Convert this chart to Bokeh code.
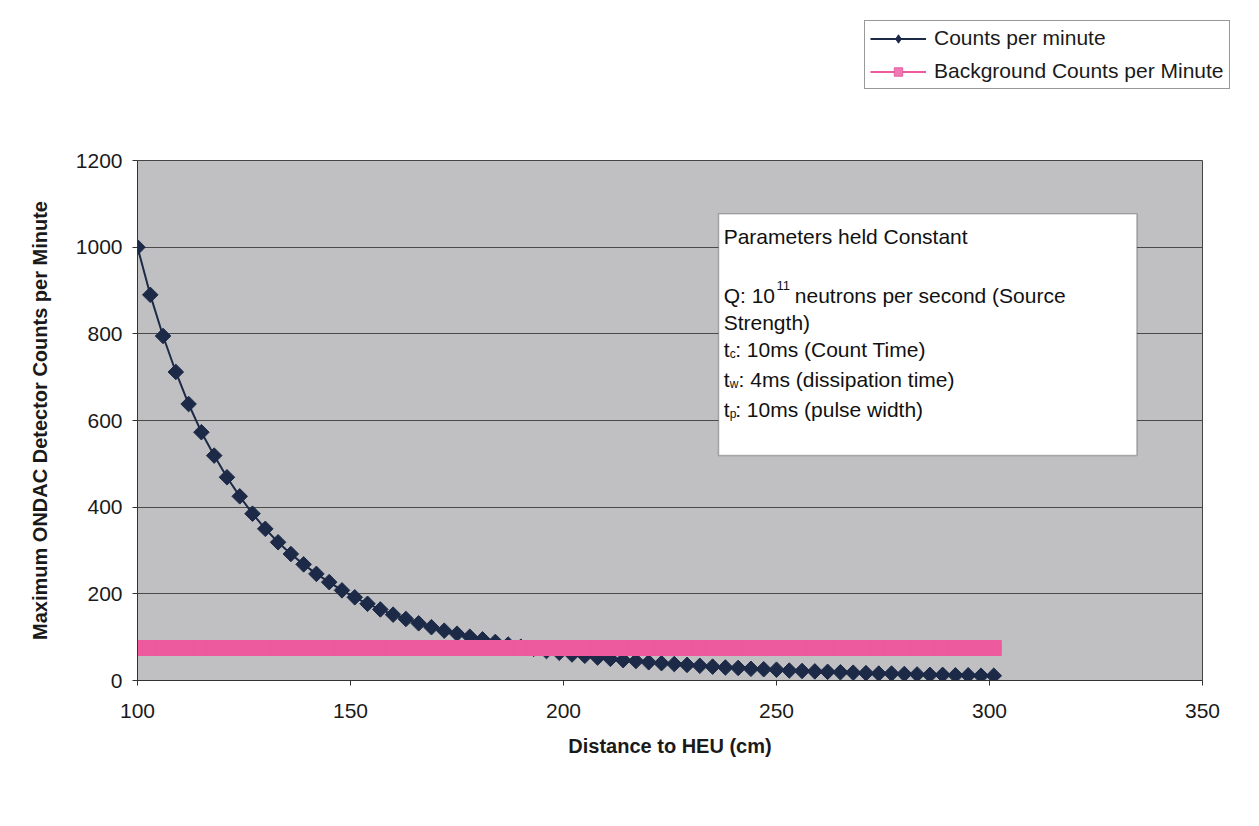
from bokeh.plotting import figure
from bokeh.layouts import column
from bokeh.models import Range1d, FixedTicker, Legend, LegendItem, Label, BoxAnnotation
from bokeh.embed import file_html
from bokeh.resources import INLINE
import math

# ---- data ----
distance = [100, 103, 106, 109, 112, 115, 118, 121, 124, 127, 130, 133, 136, 139, 142, 145, 148,
            151, 154, 157, 160, 163, 166, 169, 172, 175, 178, 181, 184, 187, 190, 193, 196, 199,
            202, 205, 208, 211, 214, 217, 220, 223, 226, 229, 232, 235, 238, 241, 244, 247, 250,
            253, 256, 259, 262, 265, 268, 271, 274, 277, 280, 283, 286, 289, 292, 295, 298, 301]
counts = [1000, 890, 795, 712, 638, 573, 519, 469, 425, 385, 350, 319, 292, 268, 246, 227, 208,
          192, 177, 164, 152, 142, 132, 123, 115, 108, 101, 95, 89, 83, 78, 73, 68, 64,
          60, 57, 53, 50, 47, 45, 42, 40, 38, 36, 34, 32, 30, 29, 27, 26, 25,
          23, 22, 21, 20, 19, 18, 17, 16, 16, 15, 14, 13, 13, 12, 12, 11, 11]
background = [75, 75, 75, 75, 75, 75, 75, 75, 75, 75, 75, 75, 75, 75, 75, 75, 75,
              75, 75, 75, 75, 75, 75, 75, 75, 75, 75, 75, 75, 75, 75, 75, 75, 75,
              75, 75, 75, 75, 75, 75, 75, 75, 75, 75, 75, 75, 75, 75, 75, 75, 75,
              75, 75, 75, 75, 75, 75, 75, 75, 75, 75, 75, 75, 75, 75, 75, 75, 75]
x_ticks = [100, 150, 200, 250, 300, 350]
y_ticks = [0, 200, 400, 600, 800, 1000, 1200]
series_names = ["Counts per minute", "Background Counts per Minute"]

FONT = "Liberation Sans"
NAVY = "#1c2a48"
PINK = "#ee5a9e"
W_MAIN = 1223
W_TOP = 1251
LEFT = 137
RIGHT = 21

# ---------------- top strip holding the legend ----------------
top = figure(width=W_TOP, height=100, output_backend="svg", toolbar_location=None,
             x_axis_location=None, y_axis_location=None,
             x_range=Range1d(0, 1), y_range=Range1d(0, 1),
             min_border_left=LEFT, min_border_right=RIGHT, min_border_top=0, min_border_bottom=0)
top.grid.visible = False
top.outline_line_color = None
top.background_fill_color = "white"
top.border_fill_color = "white"

lg1_line = top.line([-5, -4], [-5, -5], line_color=NAVY, line_width=2)
lg1_pts = top.scatter([-5], [-5], marker="diamond", size=18, fill_color=NAVY, line_color=NAVY)
lg2_line = top.line([-5, -4], [-5, -5], line_color=PINK, line_width=2)
lg2_pts = top.scatter([-5], [-5], marker="square", size=11, fill_color="#f07ab5",
                      line_color="#e0609f")

legend = Legend(items=[LegendItem(label=series_names[0], renderers=[lg1_line, lg1_pts]),
                       LegendItem(label=series_names[1], renderers=[lg2_line, lg2_pts])],
                location=(727, 11))
legend.label_text_font = FONT
legend.label_text_font_size = "21px"
legend.label_text_color = "#1a1a1a"
legend.glyph_width = 56
legend.glyph_height = 21
legend.label_height = 21
legend.label_standoff = 8
legend.spacing = 9
legend.padding = 5
legend.margin = 0
legend.border_line_color = "#333333"
legend.border_line_width = 1
legend.background_fill_color = "white"
legend.background_fill_alpha = 1
top.add_layout(legend)

# ---------------- main chart ----------------
p = figure(width=W_MAIN, height=710, output_backend="svg", toolbar_location=None,
           x_range=Range1d(100, 350), y_range=Range1d(0, 1200),
           min_border_left=LEFT, min_border_right=RIGHT, min_border_top=60,
           min_border_bottom=130)

p.background_fill_color = "#c0c0c3"
p.border_fill_color = "white"
p.outline_line_color = "#444444"
p.outline_line_width = 1

p.xgrid.grid_line_color = None
p.ygrid.grid_line_color = "#4a4a4a"
p.ygrid.grid_line_width = 1
p.xaxis.ticker = FixedTicker(ticks=x_ticks)
p.yaxis.ticker = FixedTicker(ticks=y_ticks)

for ax in (p.xaxis[0], p.yaxis[0]):
    ax.axis_line_color = "#333333"
    ax.major_tick_line_color = "#333333"
    ax.major_tick_out = 5
    ax.major_tick_in = 0
    ax.minor_tick_line_color = None
    ax.major_label_text_font = FONT
    ax.major_label_text_font_size = "21px"
    ax.major_label_text_color = "#1a1a1a"
    ax.axis_label_text_font = FONT
    ax.axis_label_text_font_style = "bold"
    ax.axis_label_text_font_size = "20px"
    ax.axis_label_text_color = "#1a1a1a"

p.xaxis.axis_label = "Distance to HEU (cm)"
p.yaxis.axis_label = "Maximum ONDAC Detector Counts per Minute"
p.xaxis.major_label_standoff = 18
p.xaxis.axis_label_standoff = 14
p.yaxis.major_label_standoff = 10
p.yaxis.axis_label_standoff = 22

# counts series
p.line(distance, counts, line_color=NAVY, line_width=2)
p.scatter(distance, counts, marker="square", size=11, angle=math.pi / 4,
          fill_color=NAVY, line_color=NAVY)

# background series (drawn on top)
p.line(distance, background, line_color=PINK, line_width=2)
p.scatter(distance, background, marker="square", size=15, fill_color=PINK, line_color=PINK)

# text box with constant parameters
p.add_layout(BoxAnnotation(left=236.4, right=334.6, bottom=519, top=1077,
                           fill_color="white", fill_alpha=1,
                           line_color="#222222", line_width=1.5))

def lab(x, y, text, size="21px"):
    p.add_layout(Label(x=x, y=y, text=text, text_font=FONT, text_font_size=size,
                       text_color="#111111", text_baseline="alphabetic", text_align="left"))

lab(237.6, 1024.6, "Parameters held Constant")
lab(237.6, 888.5, "Q: 10")
lab(250.0, 911.5, "11", "13px")
lab(254.3, 888.5, "neutrons per second (Source")
lab(237.6, 826.8, "Strength)")
lab(237.6, 763.8, "t")
lab(239.0, 753.0, "c", "12px")
lab(240.3, 763.8, ": 10ms (Count Time)")
lab(237.6, 694.6, "t")
lab(239.0, 683.8, "w", "12px")
lab(241.1, 694.6, ": 4ms (dissipation time)")
lab(237.6, 625.4, "t")
lab(239.0, 614.6, "p", "12px")
lab(240.3, 625.4, ": 10ms (pulse width)")

layout = column(top, p, spacing=0)
open("out.html", "w").write(file_html(layout, INLINE))
